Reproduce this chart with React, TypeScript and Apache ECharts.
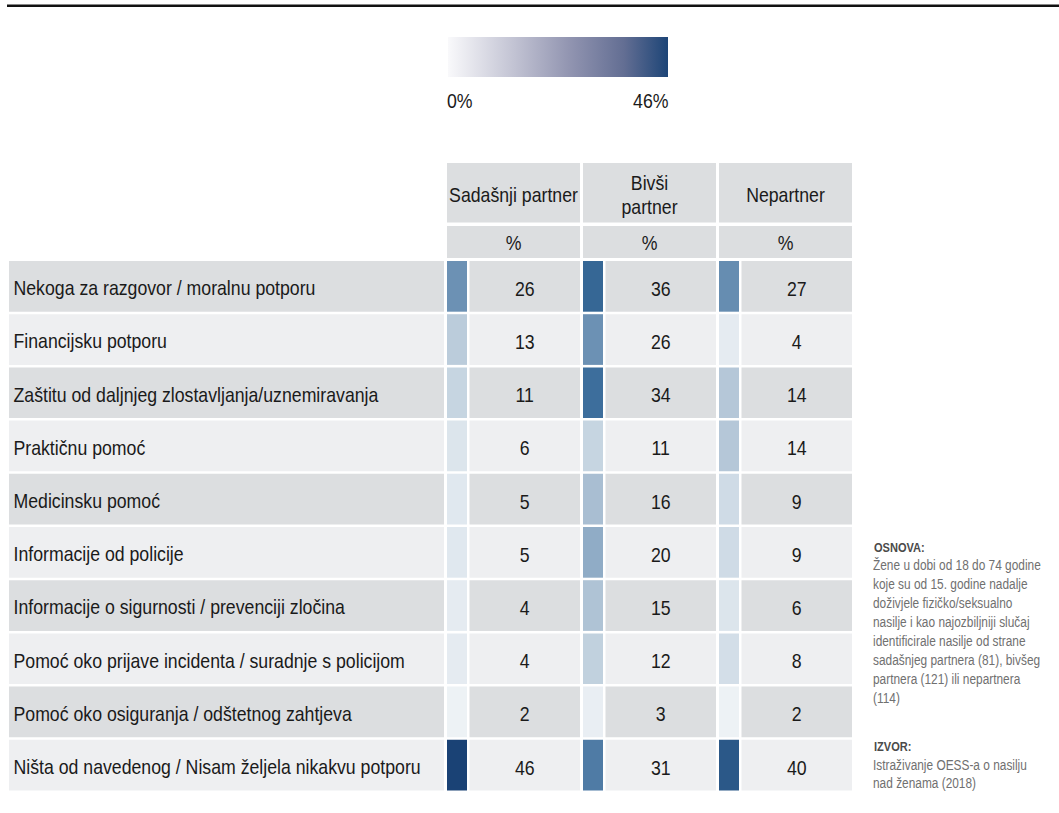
import React, { useEffect, useRef } from 'react';
import * as echarts from 'echarts';

const rowLabels = [
  'Nekoga za razgovor / moralnu potporu',
  'Financijsku potporu',
  'Zaštitu od daljnjeg zlostavljanja/uznemiravanja',
  'Praktičnu pomoć',
  'Medicinsku pomoć',
  'Informacije od policije',
  'Informacije o sigurnosti / prevenciji zločina',
  'Pomoć oko prijave incidenta / suradnje s policijom',
  'Pomoć oko osiguranja / odštetnog zahtjeva',
  'Ništa od navedenog / Nisam željela nikakvu potporu',
];
const columnLabels = ['Sadašnji partner', 'Bivši\npartner', 'Nepartner'];
const unitLabels = ['%', '%', '%'];
const currentPartner = [26, 13, 11, 6, 5, 5, 4, 4, 2, 46];
const formerPartner = [36, 26, 34, 11, 16, 20, 15, 12, 3, 31];
const nonPartner = [27, 4, 14, 14, 9, 9, 6, 8, 2, 40];
const legendMin = 0;
const legendMax = 46;
const noteBaseTitle = 'OSNOVA:';
const noteBaseLines = [
  'Žene u dobi od 18 do 74 godine',
  'koje su od 15. godine nadalje',
  'doživjele fizičko/seksualno',
  'nasilje i kao najozbiljniji slučaj',
  'identificirale nasilje od strane',
  'sadašnjeg partnera (81), bivšeg',
  'partnera (121) ili nepartnera',
  '(114)',
];
const noteSourceTitle = 'IZVOR:';
const noteSourceLines = ['Istraživanje OESS-a o nasilju', 'nad ženama (2018)'];

const FONT = "'Liberation Sans', Arial, sans-serif";
const WIDE = 0.885;
const NOTE = 0.82;
const DARK = '#dcdee0';
const LIGHT = '#eeeff1';
const TEXT = '#1a1a1a';

const GRID_TOP = 261;
const ROW_PITCH = 53.2;
const ROW_GAP = 2.5;
const VAL_LEFT = 447;
const COL_W = 136;

function narrowText(x: number, y: number, style: any, scale: number = WIDE): any {
  return {
    type: 'text',
    x,
    y,
    scaleX: scale,
    silent: true,
    style: { fontFamily: FONT, fill: TEXT, ...style, x: 0, y: 0 },
  };
}

export default function App() {
  const ref = useRef<HTMLDivElement>(null);
  useEffect(() => {
    if (!ref.current) return;
    const chart = echarts.init(ref.current, undefined, { renderer: 'svg' });
    const seriesValues = [currentPartner, formerPartner, nonPartner];
    const cellData: number[][] = [];
    seriesValues.forEach((arr, j) => arr.forEach((v, i) => cellData.push([j, i, v])));

    const headerGraphics: any[] = [];
    columnLabels.forEach((c, j) => {
      const x = VAL_LEFT + j * COL_W;
      const w = COL_W - 3;
      headerGraphics.push({ type: 'rect', shape: { x, y: 163, width: w, height: 59.5 }, style: { fill: DARK }, silent: true });
      headerGraphics.push(narrowText(x + w / 2, 195, { text: c, align: 'center', verticalAlign: 'middle', fontSize: 20, lineHeight: 24 }));
      headerGraphics.push({ type: 'rect', shape: { x, y: 226, width: w, height: 32 }, style: { fill: DARK }, silent: true });
      headerGraphics.push(narrowText(x + w / 2, 243.5, { text: unitLabels[j], align: 'center', verticalAlign: 'middle', fontSize: 20 }));
    });

    const option: any = {
      animation: false,
      backgroundColor: '#ffffff',
      grid: [
        { left: 9, top: GRID_TOP, width: 435, height: ROW_PITCH * rowLabels.length },
        { left: VAL_LEFT, top: GRID_TOP, width: COL_W * 3, height: ROW_PITCH * rowLabels.length },
      ],
      xAxis: [
        { gridIndex: 0, type: 'value', min: 0, max: 1, show: false },
        { gridIndex: 1, type: 'category', data: columnLabels, show: false },
      ],
      yAxis: [
        { gridIndex: 0, type: 'category', data: rowLabels, inverse: true, show: false },
        { gridIndex: 1, type: 'category', data: rowLabels, inverse: true, show: false },
      ],
      visualMap: [
        {
          type: 'continuous',
          show: false,
          min: legendMin,
          max: legendMax,
          dimension: 2,
          seriesIndex: 2,
          inRange: { color: ['#f6f8fa', '#c4d3e0', '#7e9ebd', '#3a6c9a', '#1a4275'] },
        },
      ],
      series: [
        {
          type: 'custom',
          xAxisIndex: 0,
          yAxisIndex: 0,
          silent: true,
          data: rowLabels.map((_, i) => [0, i]),
          renderItem: (params: any, api: any) => {
            const i = api.value(1);
            const p = api.coord([0, i]);
            const h = api.size([0, 1])[1];
            const cs = params.coordSys;
            const top = p[1] - h / 2;
            const rh = h - ROW_GAP;
            return {
              type: 'group',
              children: [
                { type: 'rect', shape: { x: cs.x, y: top, width: cs.width, height: rh }, style: { fill: i % 2 === 0 ? DARK : LIGHT } },
                narrowText(cs.x + 4.5, top + rh / 2 + 2, { text: rowLabels[i], align: 'left', verticalAlign: 'middle', fontSize: 20 }),
              ],
            };
          },
        },
        {
          type: 'custom',
          xAxisIndex: 1,
          yAxisIndex: 1,
          silent: true,
          data: cellData,
          renderItem: (params: any, api: any) => {
            const j = api.value(0);
            const i = api.value(1);
            const v = api.value(2);
            const p = api.coord([j, i]);
            const w = api.size([1, 0])[0];
            const h = api.size([0, 1])[1];
            const left = p[0] - w / 2;
            const top = p[1] - h / 2;
            const rh = h - ROW_GAP;
            const cx = left + 22.5;
            const cw = w - 25.5;
            return {
              type: 'group',
              children: [
                { type: 'rect', shape: { x: cx, y: top, width: cw, height: rh }, style: { fill: i % 2 === 0 ? DARK : LIGHT } },
                narrowText(cx + cw / 2, top + rh / 2 + 2.5, { text: String(v), align: 'center', verticalAlign: 'middle', fontSize: 20 }),
              ],
            };
          },
        },
        {
          type: 'custom',
          xAxisIndex: 1,
          yAxisIndex: 1,
          silent: true,
          data: cellData,
          renderItem: (params: any, api: any) => {
            const j = api.value(0);
            const i = api.value(1);
            const p = api.coord([j, i]);
            const w = api.size([1, 0])[0];
            const h = api.size([0, 1])[1];
            const left = p[0] - w / 2;
            const top = p[1] - h / 2;
            return {
              type: 'rect',
              shape: { x: left, y: top, width: 20, height: h - ROW_GAP },
              style: { fill: api.visual('color') },
            };
          },
        },
      ],
      graphic: [
        { type: 'line', shape: { x1: 7, y1: 5.75, x2: 1059, y2: 5.75 }, style: { stroke: '#111111', lineWidth: 2.5 }, silent: true },
        {
          type: 'rect',
          shape: { x: 448, y: 37, width: 220, height: 40 },
          style: {
            fill: new echarts.graphic.LinearGradient(0, 0, 1, 0, [
              { offset: 0, color: '#f9f9fb' },
              { offset: 0.3, color: '#c2c3d3' },
              { offset: 0.55, color: '#9295b1' },
              { offset: 0.8, color: '#636e93' },
              { offset: 1, color: '#1d4577' },
            ]),
          },
          silent: true,
        },
        narrowText(447, 101, { text: `${legendMin}%`, align: 'left', verticalAlign: 'middle', fontSize: 20 }),
        narrowText(668.5, 101, { text: `${legendMax}%`, align: 'right', verticalAlign: 'middle', fontSize: 20 }),
        ...headerGraphics,
        narrowText(874, 548, { text: noteBaseTitle, align: 'left', verticalAlign: 'middle', fontSize: 13.5, fontWeight: 'bold', fill: '#4a4a4a' }, NOTE),
        narrowText(873, 556, { text: noteBaseLines.join('\n'), align: 'left', verticalAlign: 'top', fontSize: 14.5, lineHeight: 19, fill: '#707070' }, NOTE),
        narrowText(874, 747, { text: noteSourceTitle, align: 'left', verticalAlign: 'middle', fontSize: 13.5, fontWeight: 'bold', fill: '#4a4a4a' }, NOTE),
        narrowText(873, 755.5, { text: noteSourceLines.join('\n'), align: 'left', verticalAlign: 'top', fontSize: 14.5, lineHeight: 18.5, fill: '#707070' }, NOTE),
      ],
    };
    chart.setOption(option);
    return () => chart.dispose();
  }, []);
  return <div ref={ref} style={{ position: 'absolute', left: 0, top: 0, width: 1059, height: 813 }} />;
}
